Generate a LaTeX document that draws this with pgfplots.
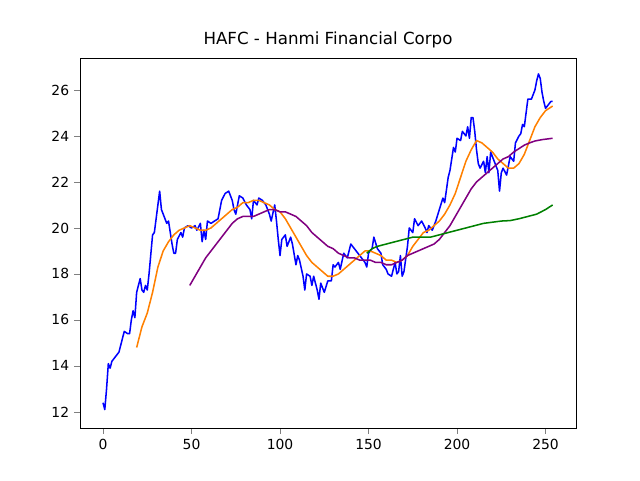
\documentclass[border=0pt]{standalone}
\usepackage{pgfplots}
\pgfplotsset{compat=1.18}
\usepackage{fontspec}
\setmainfont{DejaVu Sans}
\begin{document}
\begin{tikzpicture}
\begin{axis}[scale only axis, width=357.1pt, height=266.4pt,
 xmin=-13, xmax=267.2, ymin=11.30, ymax=27.39,
 xtick={0,50,100,150,200,250}, ytick={12,14,16,18,20,22,24,26},
 tick label style={font=\fontsize{10}{12}\selectfont},
 /pgf/number format/assume math mode=true,
 tick align=outside, xtick pos=bottom, ytick pos=left,
 title={HAFC - Hanmi Financial Corpo}, title style={font=\fontsize{12}{14}\selectfont, yshift=-2pt},
 every axis plot/.append style={line width=1.1pt, line join=round}]
\addplot[blue] coordinates {(0,12.4)(1,12.1)(2,13)(3,14.1)(4,13.9)(5,14.2)(7,14.4)(9,14.6)(11,15.2)(12,15.5)(14,15.4)(15,15.4)(16,16)(17,16.4)(18,16.1)(19,17.2)(21,17.8)(22,17.3)(23,17.2)(24,17.5)(25,17.3)(26,18)(28,19.7)(29,19.8)(31,21)(32,21.6)(33,20.8)(35,20.4)(36,20.2)(37,20.3)(38,19.8)(39,19.3)(40,18.9)(41,18.9)(42,19.5)(44,19.8)(45,19.6)(46,20)(48,20.1)(50,20)(52,20.1)(53,19.9)(55,20.2)(56,19.4)(57,19.9)(58,19.5)(59,20.3)(61,20.2)(63,20.3)(65,20.4)(67,21.2)(69,21.5)(71,21.6)(73,21.2)(74,20.8)(75,20.6)(77,21.4)(79,21.3)(81,21)(83,20.8)(84,20.4)(85,21.2)(87,21)(88,21.3)(90,21.2)(92,21)(94,20.6)(95,20.3)(97,21)(98,20.3)(99,19.5)(100,18.8)(101,19.5)(103,19.7)(104,19.2)(106,19.6)(107,19.3)(109,18.4)(110,18.8)(111,18.6)(113,17.9)(114,17.3)(115,18)(117,17.9)(118,17.5)(119,17.9)(121,17.3)(122,16.9)(123,17.6)(125,17.2)(127,17.7)(129,17.7)(130,18.4)(131,18.3)(133,18.5)(134,18.2)(136,18.9)(138,18.7)(140,19.3)(142,19.1)(144,18.9)(146,18.7)(148,18.5)(149,18.3)(150,18.9)(152,19.1)(153,19.6)(155,19.1)(157,18.9)(158,18.4)(160,18.2)(161,18)(163,17.9)(165,18.5)(166,18)(167,18.1)(168,18.8)(169,17.9)(170,18.1)(172,19.2)(173,20)(175,19.8)(176,20.4)(178,20.1)(180,20.3)(182,20)(183,19.8)(184,20.1)(186,19.9)(188,20.3)(190,20.8)(192,21.3)(193,21.1)(195,22.2)(196,22.5)(198,23.5)(199,23.3)(200,23.9)(202,23.8)(203,24.2)(205,24)(206,24.4)(207,23.9)(208,24.8)(209,24.8)(210,24.2)(211,23.4)(212,22.8)(213,22.6)(215,22.9)(216,22.4)(217,23.1)(218,22.4)(219,23.3)(221,22.9)(223,22.5)(224,21.6)(225,22.4)(226,22.6)(228,22.3)(230,23.1)(232,22.9)(233,23.7)(235,24)(236,24.1)(237,24.5)(238,24.4)(240,25.6)(242,25.6)(244,26)(245,26.4)(246,26.7)(247,26.5)(248,25.9)(249,25.5)(250,25.2)(252,25.4)(253,25.5)(254,25.5)};
\addplot[orange] coordinates {(19,14.8)(22,15.7)(25,16.3)(28,17.2)(31,18.3)(34,19)(37,19.4)(40,19.7)(43,19.9)(46,20)(49,20.1)(52,20)(55,19.9)(58,19.9)(61,20)(64,20.2)(67,20.4)(70,20.6)(73,20.8)(76,20.9)(79,21.1)(82,21.1)(85,21.2)(88,21.2)(91,21.1)(94,21)(97,20.8)(100,20.7)(103,20.4)(106,20)(109,19.6)(112,19.2)(115,18.8)(118,18.5)(121,18.3)(124,18.1)(127,17.9)(130,17.9)(133,18)(136,18.2)(139,18.4)(142,18.6)(145,18.8)(148,19.0)(151,19.0)(154,18.9)(157,18.8)(160,18.6)(163,18.6)(166,18.5)(169,18.6)(172,18.8)(175,19.2)(178,19.5)(181,19.8)(184,19.9)(187,20.1)(190,20.3)(193,20.6)(196,21)(199,21.5)(202,22.2)(205,22.9)(208,23.4)(211,23.8)(214,23.7)(217,23.5)(220,23.3)(223,23)(226,22.8)(229,22.6)(232,22.6)(235,22.8)(238,23.2)(241,23.8)(244,24.4)(247,24.8)(250,25.1)(254,25.3)};
\addplot[violet!70!black, color={rgb,255:red,128;green,0;blue,128}] coordinates {(49,17.5)(52,17.9)(55,18.3)(58,18.7)(61,19.0)(64,19.3)(67,19.6)(70,19.9)(73,20.2)(76,20.4)(79,20.5)(82,20.5)(85,20.5)(88,20.6)(91,20.7)(94,20.8)(97,20.8)(100,20.7)(103,20.7)(106,20.6)(109,20.5)(112,20.3)(115,20.1)(118,19.8)(121,19.6)(124,19.4)(127,19.2)(130,19.1)(133,18.9)(136,18.8)(139,18.7)(142,18.7)(145,18.6)(148,18.6)(151,18.6)(154,18.5)(157,18.5)(160,18.4)(163,18.4)(166,18.5)(169,18.6)(172,18.8)(175,18.9)(178,19.0)(181,19.1)(184,19.2)(187,19.3)(190,19.5)(193,19.8)(196,20.1)(199,20.5)(202,20.9)(205,21.3)(208,21.7)(211,22.0)(214,22.2)(217,22.4)(220,22.6)(223,22.8)(226,23.0)(229,23.1)(232,23.3)(235,23.45)(238,23.6)(241,23.7)(244,23.78)(248,23.84)(254,23.9)};
\addplot[color={rgb,255:red,0;green,128;blue,0}] coordinates {(149,18.9)(152,19.1)(155,19.2)(160,19.3)(165,19.4)(170,19.5)(175,19.6)(180,19.6)(185,19.6)(190,19.7)(195,19.8)(200,19.9)(205,20.0)(210,20.1)(215,20.2)(220,20.25)(225,20.3)(230,20.32)(235,20.4)(240,20.5)(245,20.6)(250,20.8)(254,21.0)};
\end{axis}
\path (current axis.south west) ++(-57.6pt,-37.44pt) coordinate (a);
\path (current axis.north east) ++(46.08pt,41.76pt) coordinate (b);
\useasboundingbox (a) rectangle (b);
\end{tikzpicture}
\end{document}
